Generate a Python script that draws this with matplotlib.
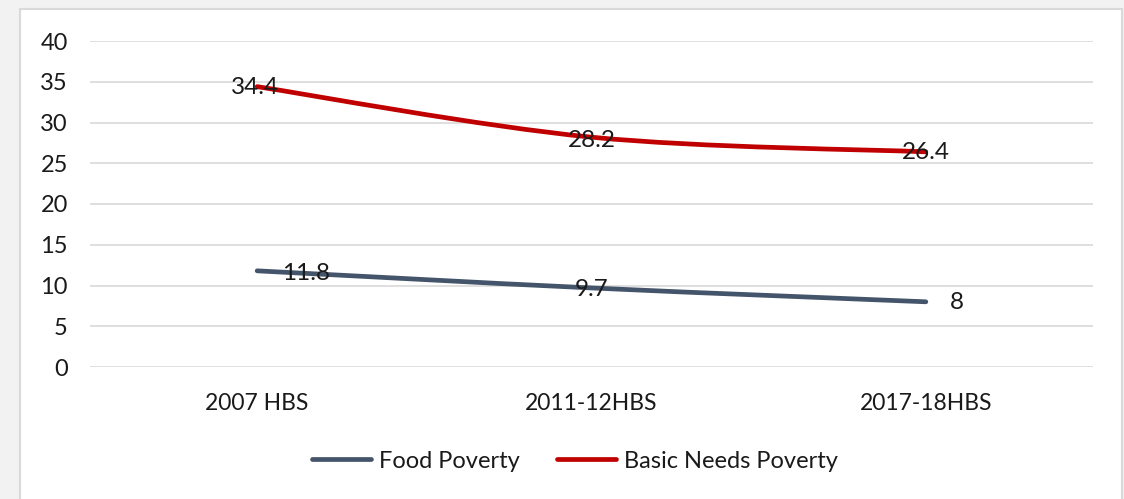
import matplotlib.pyplot as plt
from matplotlib.path import Path
from matplotlib.patches import PathPatch, Rectangle
from matplotlib.lines import Line2D

plt.rcParams['font.family'] = ['Lato', 'DejaVu Sans']

surveys = ['2007 HBS', '2011-12HBS', '2017-18HBS']
food_poverty = [11.8, 9.7, 8]
basic_needs_poverty = [34.4, 28.2, 26.4]

# label offsets in pixels (dx, dy) from each point
food_offsets = [(49, -3), (0, -2), (31, -1)]
basic_offsets = [(-2, -1), (0, -3), (0, -1)]

FOOD_COL = '#44546A'
BASIC_COL = '#C00000'
TXT = '#1a1a1a'


def smooth_path(xs, ys):
    # cubic bezier through the points, like a spreadsheet "smoothed line"
    pts = list(zip(xs, ys))
    verts = [pts[0]]
    codes = [Path.MOVETO]
    n = len(pts)
    for i in range(n - 1):
        p0 = pts[max(i - 1, 0)]
        p1 = pts[i]
        p2 = pts[i + 1]
        p3 = pts[min(i + 2, n - 1)]
        c1 = (p1[0] + (p2[0] - p0[0]) / 6, p1[1] + (p2[1] - p0[1]) / 6)
        c2 = (p2[0] - (p3[0] - p1[0]) / 6, p2[1] - (p3[1] - p1[1]) / 6)
        verts += [c1, c2, p2]
        codes += [Path.CURVE4] * 3
    return Path(verts, codes)


fig = plt.figure(figsize=(11.24, 4.99), dpi=100, facecolor='#f2f2f2')
fig.patches.append(Rectangle((20 / 1124, -0.01), 1102 / 1124, 1 - 9 / 499 + 0.01,
                             transform=fig.transFigure, facecolor='white',
                             edgecolor='#d9d9d9', linewidth=1.5, zorder=-1))

ax = fig.add_axes([90 / 1124, 1 - 367 / 499, 1003 / 1124, 326 / 499])
ax.set_facecolor('none')
x = list(range(len(surveys)))

for vals, col, offs in [(food_poverty, FOOD_COL, food_offsets),
                        (basic_needs_poverty, BASIC_COL, basic_offsets)]:
    ax.add_patch(PathPatch(smooth_path(x, vals), facecolor='none', edgecolor=col,
                           linewidth=3.4, capstyle='round', zorder=3))
    for xi, v, (dx, dy) in zip(x, vals, offs):
        ax.annotate(f'{v:g}', (xi, v), xytext=(dx * 0.72, dy * 0.72),
                    textcoords='offset points', ha='center', va='center',
                    fontsize=17.5, color=TXT, zorder=4)

ax.set_xlim(-0.5, 2.5)
ax.set_ylim(0, 40)
ax.set_yticks(range(0, 41, 5))
ax.set_xticks(x)
ax.set_xticklabels(surveys)
ax.grid(axis='y', color='#d9d9d9', linewidth=1.2)
ax.set_axisbelow(True)
for s in ax.spines.values():
    s.set_visible(False)
ax.tick_params(axis='both', length=0, labelcolor=TXT)
ax.tick_params(axis='y', pad=16, labelsize=17)
ax.tick_params(axis='x', pad=19, labelsize=16.5)

handles = [Line2D([], [], color=FOOD_COL, linewidth=3.4, solid_capstyle='round'),
           Line2D([], [], color=BASIC_COL, linewidth=3.4, solid_capstyle='round')]
fig.legend(handles, ['Food Poverty', 'Basic Needs Poverty'], loc='center',
           bbox_to_anchor=(575 / 1124, 1 - 461 / 499), ncol=2, frameon=False,
           fontsize=17, handlelength=2.5, handletextpad=0.34, columnspacing=1.6,
           labelcolor=TXT)

fig.savefig('out.png', dpi=100, facecolor=fig.get_facecolor())
